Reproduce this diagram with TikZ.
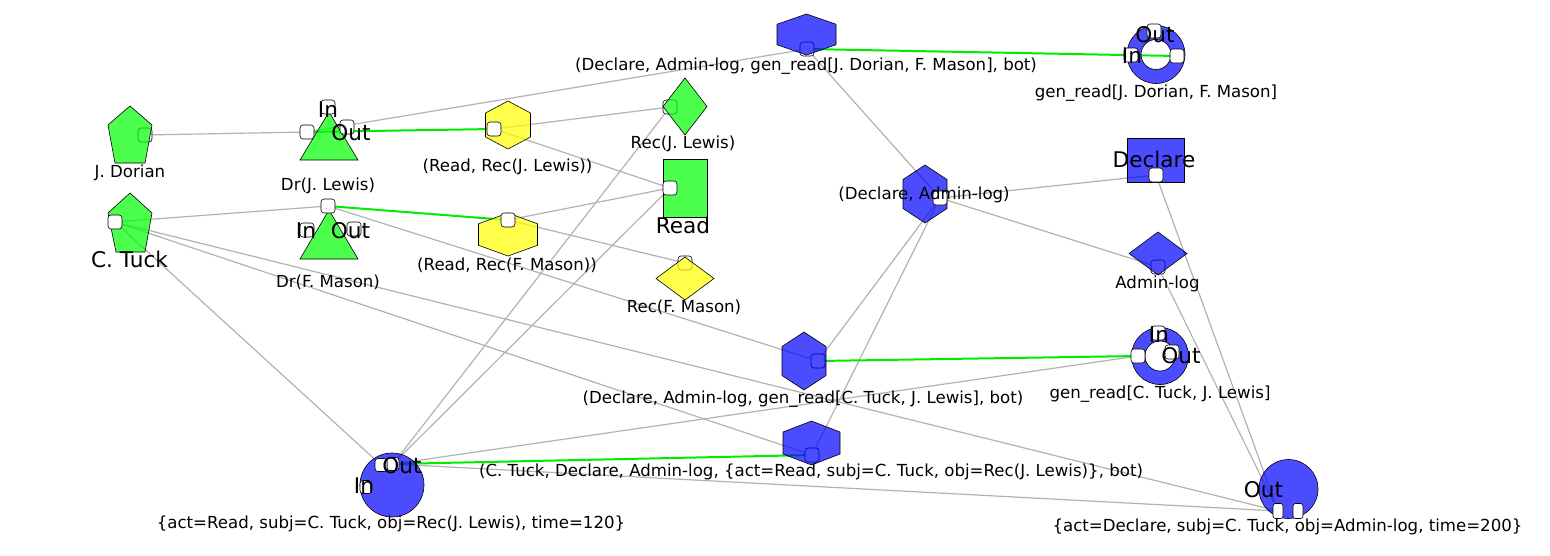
\documentclass[tikz,border=0pt]{standalone}
\usepackage{fontspec}
\setmainfont{DejaVu Sans}
\definecolor{ngreen}{RGB}{0,255,0}
\definecolor{nblue}{RGB}{0,0,255}
\definecolor{nyellow}{RGB}{255,255,0}
\definecolor{egray}{RGB}{178,178,178}
\definecolor{egreen}{RGB}{0,235,0}
\newcommand\smallfnt{\fontsize{16.6}{19}\selectfont}
\newcommand\bigfnt{\fontsize{21.6}{25}\selectfont}
\pgfdeclarelayer{edgelayer}
\pgfdeclarelayer{backports}
\pgfdeclarelayer{shapelayer}
\pgfsetlayers{edgelayer,backports,shapelayer,main}
\tikzset{
  port/.style={draw=black, line width=0.6pt, fill=white, rounded corners=3pt, minimum width=14pt, minimum height=14pt, inner sep=0pt, outer sep=0pt},
  narrowport/.style={port, minimum width=10pt, minimum height=15pt, rounded corners=2.5pt},
  grayedge/.style={draw=egray, line width=1.2pt},
  greenedge/.style={draw=egreen, line width=2pt},
  lbl/.style={font=\smallfnt, inner sep=0pt, text height=12.1pt, text depth=0pt},
  biglbl/.style={font=\bigfnt, inner sep=0pt, text height=15.7pt, text depth=0pt},
  shp/.style={draw=black, line width=0.6pt, fill opacity=0.7},
}
\newcommand\hexshape[5]{\filldraw[shp, fill=#5] (#1,#2) ++(0,-#4/2) -- ++(#3/2,#4/4) -- ++(0,#4/2) -- ++(-#3/2,#4/4) -- ++(-#3/2,-#4/4) -- ++(0,-#4/2) -- cycle;}
\newcommand\diamondshape[5]{\filldraw[shp, fill=#5] (#1,#2) ++(0,-#4/2) -- ++(#3/2,#4/2) -- ++(-#3/2,#4/2) -- ++(-#3/2,-#4/2) -- cycle;}
\begin{document}
\begin{tikzpicture}[x=1pt,y=-1pt]
\useasboundingbox (0,0) rectangle (1550,555);

% ---------- node shapes ----------
\begin{pgfonlayer}{shapelayer}
  % green pentagons
  \filldraw[shp, fill=ngreen] (130,106) -- (152,125) -- (145,163) -- (115,163) -- (108,125) -- cycle;
  \filldraw[shp, fill=ngreen] (130,193) -- (152,213) -- (145,252) -- (116,252) -- (108,213) -- cycle;
  % green triangles
  \filldraw[shp, fill=ngreen] (329,112) -- (358,160) -- (300,160) -- cycle;
  \filldraw[shp, fill=ngreen] (329,210) -- (358,259) -- (300,259) -- cycle;
  % yellow hexagons
  \hexshape{508}{125}{45}{48}{nyellow}
  \hexshape{508}{234.5}{59}{43}{nyellow}
  % diamonds
  \diamondshape{685}{106.5}{44}{57}{ngreen}
  \diamondshape{685}{278.5}{58}{43}{nyellow}
  \diamondshape{1158}{253.5}{58}{43}{nblue}
  % rectangles
  \filldraw[shp, fill=ngreen] (663,159) rectangle (707,217);
  \filldraw[shp, fill=nblue] (1127,138) rectangle (1184,182);
  % blue hexagons
  \hexshape{806.5}{34.5}{59}{41}{nblue}
  \hexshape{925}{194}{44}{58}{nblue}
  \hexshape{804}{361}{44}{58}{nblue}
  \hexshape{811.5}{443}{57}{44}{nblue}
  % rings
  \filldraw[shp, fill=nblue, even odd rule] (1156,54.5) circle[radius=29pt] (1156,54.5) circle[radius=15pt];
  \filldraw[shp, fill=nblue, even odd rule] (1160,356) circle[radius=28.5pt] (1160,356) circle[radius=15pt];
  % circles
  \filldraw[shp, fill=nblue] (392,485) circle[radius=32pt];
  \filldraw[shp, fill=nblue] (1288.5,489) circle[radius=29.5pt];
\end{pgfonlayer}

% ---------- ports seen through the shapes ----------
\begin{pgfonlayer}{backports}
  \node[port] (pJD) at (145,135) {};
  \node[port] (pRecJL) at (670,107) {};
  \node[port] (pRecFM) at (685,263) {};
  \node[port] (pTop) at (807,49) {};
  \node[port] (pAdmin) at (1158,267) {};
  \node[port] (pHex16) at (818,361) {};
  \node[port] (pHex17) at (812,455) {};
\end{pgfonlayer}

% ---------- ports in front ----------
\node[port] (pCT) at (115,222) {};
\node[port] (pDJLin) at (328,107) {};
\node[port] (pDJLout) at (347,127) {};
\node[port] (pDJL) at (307,132) {};
\node[port] (pDFMin) at (307,230) {};
\node[port] (pDFMout) at (354,229) {};
\node[port] (pDFM) at (328,206) {};
\node[port] (pRRJL) at (494,129) {};
\node[port] (pRRFM) at (508,220) {};
\node[port] (pRead) at (670,188) {};
\node[port] (pRingJDout) at (1154,31) {};
\node[port] (pRingJDin) at (1131,55) {};
\node[port] (pRingJD) at (1177,56) {};
\node[port] (pHex12) at (940,198) {};
\node[port] (pDeclare) at (1156,175) {};
\node[port] (pRingCTin) at (1158,333) {};
\node[port] (pRingCTout) at (1172,352) {};
\node[port] (pRingCT) at (1138,356) {};
\node[port, minimum width=12pt, minimum height=13pt] (pC18in) at (366,487) {};
\node[port, minimum width=12pt, minimum height=13pt] (pC18out) at (393,464) {};
\node[port, minimum width=12pt, minimum height=13pt] (pC18) at (381,465) {};
\node[narrowport] (pC19a) at (1278,511) {};
\node[narrowport] (pC19b) at (1298,511) {};

% ---------- connectors ----------
\begin{pgfonlayer}{edgelayer}
  \draw[grayedge] (pJD.center) -- (pDJL.center);
  \draw[grayedge] (pDJL.center) -- (pTop.center);
  \draw[grayedge] (pRRJL.center) -- (pRecJL.center);
  \draw[grayedge] (pRRJL.center) -- (pRead.center);
  \draw[grayedge] (pRRFM.center) -- (pRead.center);
  \draw[grayedge] (pRRFM.center) -- (pRecFM.center);
  \draw[grayedge] (pCT.center) -- (pDFM.center);
  \draw[grayedge] (pDFM.center) -- (pHex16.center);
  \draw[grayedge] (pCT.center) -- (pHex17.center);
  \draw[grayedge] (pCT.center) -- (pC19a.center);
  \draw[grayedge] (pCT.center) -- (pC18.center);
  \draw[grayedge] (pTop.center) -- (pHex12.center);
  \draw[grayedge] (pHex12.center) -- (pDeclare.center);
  \draw[grayedge] (pHex12.center) -- (pAdmin.center);
  \draw[grayedge] (pHex12.center) -- (pHex16.center);
  \draw[grayedge] (pHex12.center) -- (pHex17.center);
  \draw[grayedge] (pRecJL.center) -- (pC18out.center);
  \draw[grayedge] (pRead.center) -- (pC18out.center);
  \draw[grayedge] (pC18out.center) -- (pRingCT.center);
  \draw[grayedge] (pC18out.center) -- (pC19a.center);
  \draw[grayedge] (pDeclare.center) -- (pC19a.center);
  \draw[grayedge] (pAdmin.center) -- (pC19a.center);
  \draw[greenedge] (pDJL.center) -- (pRRJL.center);
  \draw[greenedge] (pDFM.center) -- (pRRFM.center);
  \draw[greenedge] (pTop.center) -- (pRingJD.center);
  \draw[greenedge] (pHex16.center) -- (pRingCT.center);
  \draw[greenedge] (pC18out.center) -- (pHex17.center);
\end{pgfonlayer}

% ---------- labels ----------
\node[lbl] (lJD) at (130,171.5) {J. Dorian};
\node[biglbl] (lCT) at (129.5,259.5) {C. Tuck};
\node[lbl] (lDJL) at (328,184) {Dr(J. Lewis)};
\node[lbl] (lDFM) at (328,281) {Dr(F. Mason)};
\node[biglbl] (lDJLin) at (328,110) {In};
\node[biglbl] (lDJLout) at (351,132.5) {Out};
\node[biglbl] (lDFMin) at (306,231) {In};
\node[biglbl] (lDFMout) at (350.5,231) {Out};
\node[lbl] (lRRJL) at (507.5,165) {(Read, Rec(J. Lewis))};
\node[lbl] (lRRFM) at (507,264) {(Read, Rec(F. Mason))};
\node[lbl] (lRecJL) at (683,142) {Rec(J. Lewis)};
\node[biglbl] (lRead) at (683,225.5) {Read};
\node[lbl] (lRecFM) at (684,306) {Rec(F. Mason)};
\node[lbl] (lTop) at (806,64) {(Declare, Admin-log, gen\_read[J. Dorian, F. Mason], bot)};
\node[lbl] (lRingJD) at (1156,91) {gen\_read[J. Dorian, F. Mason]};
\node[biglbl] (lRingJDout) at (1155,34.5) {Out};
\node[biglbl] (lRingJDin) at (1132,56) {In};
\node[biglbl] (lDeclare) at (1154,160) {Declare};
\node[lbl] (lHex12) at (924,193) {(Declare, Admin-log)};
\node[lbl] (lAdmin) at (1157.5,282.5) {Admin-log};
\node[lbl] (lRingCT) at (1160,392) {gen\_read[C. Tuck, J. Lewis]};
\node[biglbl] (lRingCTin) at (1159,334.5) {In};
\node[biglbl] (lRingCTout) at (1181,356) {Out};
\node[lbl] (lHex16) at (803,397) {(Declare, Admin-log, gen\_read[C. Tuck, J. Lewis], bot)};
\node[lbl] (lHex17) at (811,470.5) {(C. Tuck, Declare, Admin-log, \{act=Read, subj=C. Tuck, obj=Rec(J. Lewis)\}, bot)};
\node[lbl] (lC18) at (391,522.5) {\{act=Read, subj=C. Tuck, obj=Rec(J. Lewis), time=120\}};
\node[biglbl] (lC18out) at (402,466) {Out};
\node[biglbl] (lC18in) at (364,486) {In};
\node[lbl] (lC19) at (1287.5,525) {\{act=Declare, subj=C. Tuck, obj=Admin-log, time=200\}};
\node[biglbl] (lC19out) at (1263.5,489.5) {Out};
\end{tikzpicture}
\end{document}
